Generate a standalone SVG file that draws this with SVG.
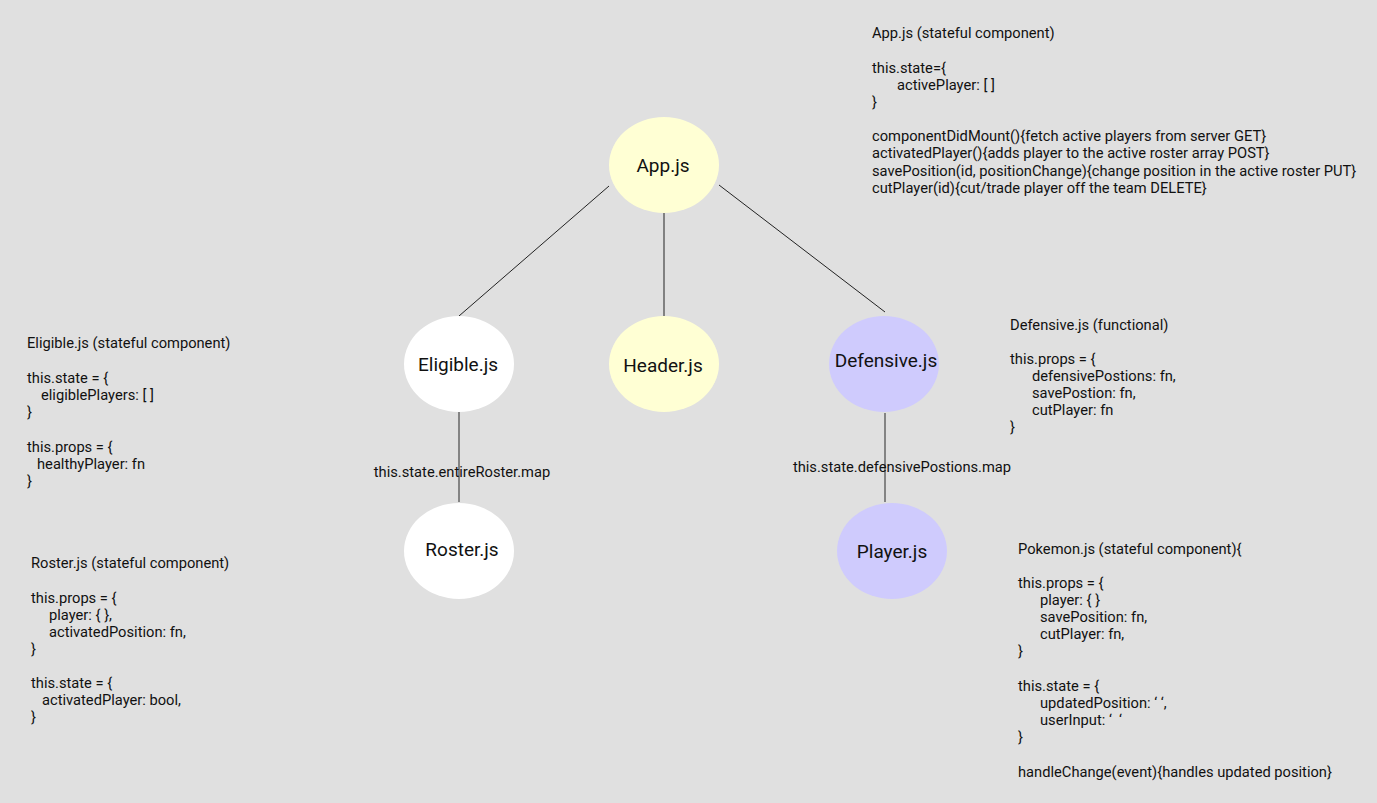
<svg xmlns="http://www.w3.org/2000/svg" width="1377" height="803" viewBox="0 0 1377 803">
<style>
.bg{fill:#e0e0e0}
.yel{fill:#ffffd4}
.wht{fill:#ffffff}
.pur{fill:#cfcbfd}
.lbl{font-family:Roboto,"Liberation Sans",sans-serif;font-size:19px;fill:#111;text-anchor:middle}
.note{font-family:Roboto,"Liberation Sans",sans-serif;font-size:14.7px;fill:#111}
.elbl{font-family:Roboto,"Liberation Sans",sans-serif;font-size:14.7px;fill:#111;text-anchor:middle}
.e1{stroke:#222;stroke-width:1;fill:none}
.e2{stroke:#666;stroke-width:1.5;fill:none}
</style>
<rect class="bg" x="0" y="0" width="1377" height="803"/>
<g id="connectors">
<line class="e1" x1="609" y1="186" x2="459" y2="316"/>
<line class="e1" x1="664" y1="213" x2="664" y2="319"/>
<line class="e1" x1="719" y1="185" x2="885" y2="312"/>
<line class="e2" x1="459" y1="412" x2="459" y2="502"/>
<line class="e2" x1="885" y1="413" x2="885" y2="502"/>
<text class="elbl" x="462" y="477">this.state.entireRoster.map</text>
<text class="elbl" x="902" y="472">this.state.defensivePostions.map</text>
</g>
<g id="app">
<ellipse class="yel" cx="664" cy="165" rx="55" ry="48"/>
<text class="lbl" x="663" y="172">App.js</text>
</g>
<g id="eligible">
<ellipse class="wht" cx="459" cy="364" rx="55" ry="48"/>
<text class="lbl" x="458" y="371">Eligible.js</text>
</g>
<g id="header">
<ellipse class="yel" cx="664" cy="364" rx="55" ry="48"/>
<text class="lbl" x="663" y="372">Header.js</text>
</g>
<g id="defensive">
<ellipse class="pur" cx="884" cy="364" rx="55" ry="48"/>
<text class="lbl" x="886" y="367">Defensive.js</text>
</g>
<g id="roster">
<ellipse class="wht" cx="459" cy="551" rx="55" ry="48"/>
<text class="lbl" x="462" y="556">Roster.js</text>
</g>
<g id="player">
<ellipse class="pur" cx="892" cy="551" rx="55" ry="48"/>
<text class="lbl" x="892" y="558">Player.js</text>
</g>
<g id="app-notes" class="note">
<text x="872" y="38">App.js (stateful component)</text>
<text x="872" y="73">this.state={</text>
<text x="897" y="90">activePlayer: [ ]</text>
<text x="872" y="107">}</text>
<text x="872" y="141">componentDidMount(){fetch active players from server GET}</text>
<text x="872" y="158">activatedPlayer(){adds player to the active roster array POST}</text>
<text x="872" y="176">savePosition(id, positionChange){change position in the active roster PUT}</text>
<text x="872" y="193">cutPlayer(id){cut/trade player off the team DELETE}</text>
</g>
<g id="eligible-notes" class="note">
<text x="27" y="348">Eligible.js (stateful component)</text>
<text x="27" y="383">this.state = {</text>
<text x="41" y="400">eligiblePlayers: [ ]</text>
<text x="27" y="417">}</text>
<text x="27" y="452">this.props = {</text>
<text x="37" y="469">healthyPlayer: fn</text>
<text x="27" y="486">}</text>
</g>
<g id="roster-notes" class="note">
<text x="31" y="568">Roster.js (stateful component)</text>
<text x="31" y="603">this.props = {</text>
<text x="49" y="620">player: { },</text>
<text x="49" y="637">activatedPosition: fn,</text>
<text x="31" y="654">}</text>
<text x="31" y="688">this.state = {</text>
<text x="42" y="705">activatedPlayer: bool,</text>
<text x="31" y="722">}</text>
</g>
<g id="defensive-notes" class="note">
<text x="1010" y="330">Defensive.js (functional)</text>
<text x="1010" y="364">this.props = {</text>
<text x="1032" y="381">defensivePostions: fn,</text>
<text x="1032" y="398">savePostion: fn,</text>
<text x="1032" y="415">cutPlayer: fn</text>
<text x="1010" y="432">}</text>
</g>
<g id="pokemon-notes" class="note">
<text x="1018" y="554">Pokemon.js (stateful component){</text>
<text x="1018" y="588">this.props = {</text>
<text x="1040" y="605">player: { }</text>
<text x="1040" y="622">savePosition: fn,</text>
<text x="1040" y="639">cutPlayer: fn,</text>
<text x="1018" y="656">}</text>
<text x="1018" y="691">this.state = {</text>
<text x="1040" y="708">updatedPosition: ‘ ‘,</text>
<text x="1040" y="725">userInput: ‘&#160;&#160;‘</text>
<text x="1018" y="742">}</text>
<text x="1018" y="777">handleChange(event){handles updated position}</text>
</g>
</svg>
